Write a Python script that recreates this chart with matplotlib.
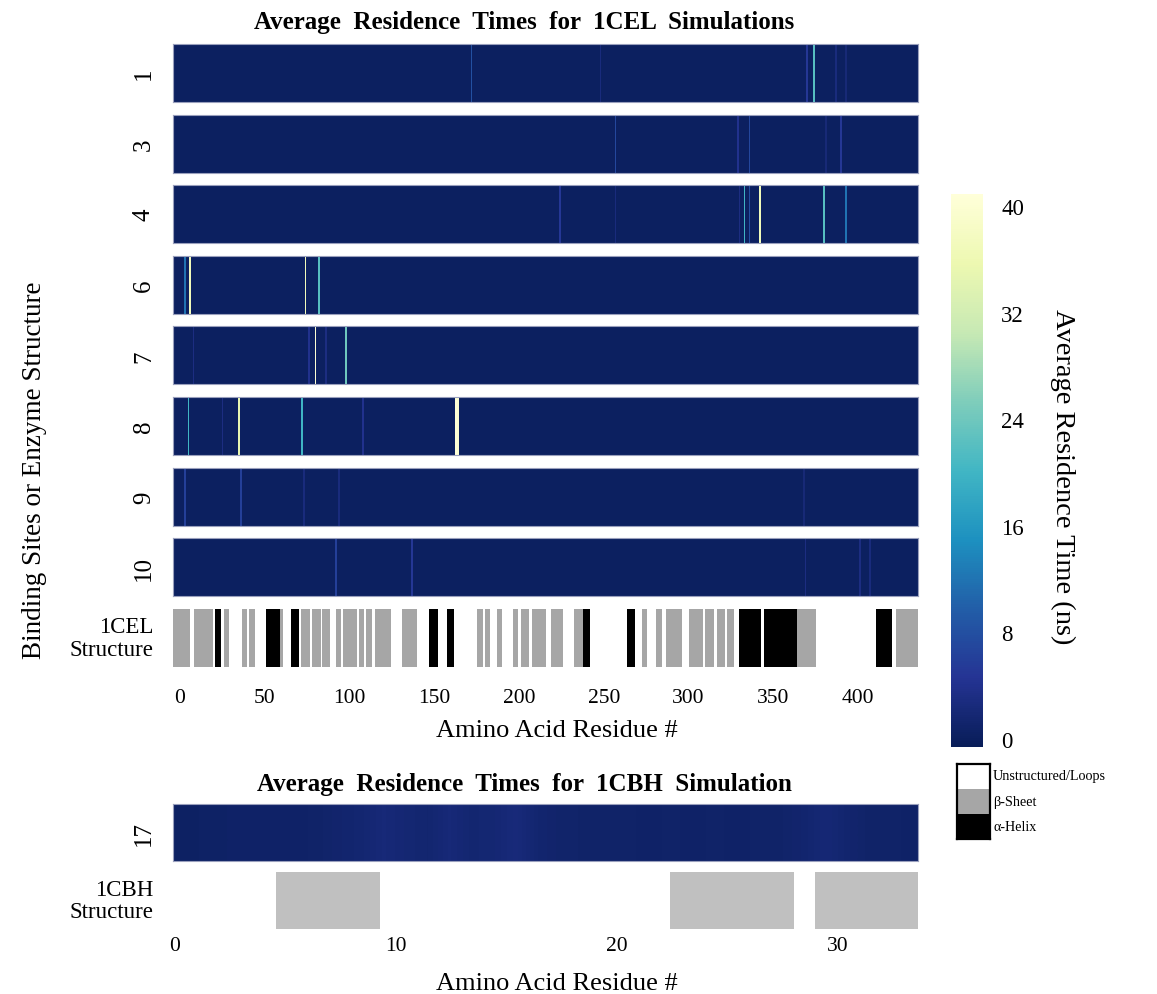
import numpy as np
import matplotlib
matplotlib.use("Agg")
import matplotlib.pyplot as plt
from matplotlib.colors import Normalize
from matplotlib.patches import Rectangle

plt.rcParams['font.family'] = ['Liberation Serif', 'DejaVu Serif']

# ---------------- data ----------------
# 1CEL binding sites and per-residue average residence times (ns)
site_labels = ['1', '3', '4', '6', '7', '8', '9', '10']
cel_first_residue, cel_last_residue = -4, 435
cel_base_time = 0.2
# (residue, residence time) for residues above the background level
site_spikes = {
    '1': [(172, 8.0), (248, 2.5), (370, 5.0), (374, 22.0), (387, 2.5), (393, 2.0)],
    '3': [(257, 7.0), (329, 4.0), (336, 7.0), (381, 2.0), (390, 5.0)],
    '4': [(224, 5.0), (257, 2.5), (330, 3.0), (333, 20.0), (336, 8.0), (342, 37.0),
          (380, 22.0), (393, 12.0)],
    '6': [(3, 12.0), (6, 37.0), (74, 37.0), (82, 22.0)],
    '7': [(8, 3.0), (76, 4.0), (80, 40.0), (86, 3.0), (98, 24.0)],
    '8': [(5, 20.0), (25, 3.0), (35, 35.0), (72, 20.0), (108, 4.0), (163, 41.0), (164, 40.0)],
    '9': [(3, 6.0), (36, 6.0), (73, 2.5), (94, 2.5), (368, 2.0)],
    '10': [(92, 6.0), (137, 5.0), (369, 3.0), (401, 3.0), (407, 2.5)],
}

# 1CEL secondary structure: segment start, end (residue) and type (B = beta sheet, H = alpha helix)
cel_ss_start = [-4, 8, 20.5, 26, 36.5, 41, 50.5, 59, 65.5, 71.5, 78, 84, 92, 96, 105.5, 110,
                115, 131, 147, 157.5, 175.5, 180, 187, 196.5, 201, 207.5, 219, 232.5, 237.5,
                263.5, 272.5, 281, 286.5, 300.5, 309.5, 317, 322.5, 330, 344.5, 364, 410.5, 422.5]
cel_ss_end = [6, 19.5, 24, 29, 39.5, 44, 59, 60.5, 70.5, 76.5, 83, 88.5, 95, 104.5, 108.5, 113,
              124.5, 140, 152, 161.5, 178.5, 183, 190, 199.5, 206, 216, 226, 237.5, 242,
              268.5, 275.5, 284.5, 296, 308.5, 315, 321.5, 327, 342.5, 364, 375, 420, 435.5]
cel_ss_type = ['B', 'B', 'H', 'B', 'B', 'B', 'H', 'B', 'H', 'B', 'B', 'B', 'B', 'B', 'B', 'B',
               'B', 'B', 'H', 'H', 'B', 'B', 'B', 'B', 'B', 'B', 'B', 'B', 'H',
               'H', 'B', 'B', 'B', 'B', 'B', 'B', 'B', 'H', 'H', 'B', 'H', 'B']

# 1CBH binding site 17, residence time per residue (ns)
cbh_residues = np.arange(0, 34)
cbh_times = [0.4, 0.6, 0.7, 0.8, 0.7, 0.8, 0.9, 1.3, 1.6, 2.2, 1.8, 1.5, 2.2, 1.6, 1.8, 2.4,
             1.5, 1.1, 1.0, 0.9, 0.9, 0.8, 0.9, 0.8, 0.9, 0.8, 0.9, 1.0, 1.4, 2.0, 1.4, 0.9,
             0.9, 0.8]
# 1CBH secondary structure (beta sheets) on its 36-residue scale
cbh_ss_start = [5, 24, 31]
cbh_ss_end = [10, 30, 36]
cbh_length = 36

cel_ticks = [0, 50, 100, 150, 200, 250, 300, 350, 400]
cbh_ticks = [0, 10, 20, 30]
cbar_ticks = [0, 8, 16, 24, 32, 40]

# ---------------- styling ----------------
W, H = 1157, 995
fig = plt.figure(figsize=(W / 100, H / 100), dpi=100)
cmap = plt.get_cmap('YlGnBu_r')
norm = Normalize(vmin=-0.6, vmax=40.9)
ss_colors = {'U': '#ffffff', 'B': '#a6a6a6', 'H': '#000000'}
cbh_sheet_color = '#c0c0c0'
edge_col = '#9aa0bd'


def px_axes(x0, y0, x1, y1):
    return fig.add_axes([x0 / W, 1 - y1 / H, (x1 - x0) / W, (y1 - y0) / H])


def clean(ax, spines=True):
    for s in ax.spines.values():
        s.set_visible(spines)
        s.set_color(edge_col)
        s.set_linewidth(0.8)
    ax.tick_params(length=0)


left_px, right_px = 173, 918
cel_xlim = (-4.13, 435.4)
row_top0, row_pitch, row_h = 45, 70.6, 58

# ---------------- 1CEL heatmap rows ----------------
residues = np.arange(cel_first_residue, cel_last_residue + 1)
x_edges = np.append(residues - 0.5, residues[-1] + 0.5)
mappable = None
for i, lab in enumerate(site_labels):
    top = row_top0 + i * row_pitch
    ax = px_axes(left_px, top, right_px, top + row_h)
    times = np.full(residues.size, cel_base_time)
    for res, t in site_spikes[lab]:
        times[res - cel_first_residue] = t
    mappable = ax.pcolormesh(x_edges, [0, 1], times[np.newaxis, :], cmap=cmap, norm=norm)
    ax.set_xlim(*cel_xlim)
    ax.set_ylim(0, 1)
    ax.set_xticks([])
    ax.set_yticks([0.5])
    ax.set_yticklabels([lab], rotation=90, fontsize=18, va='center', ha='right')
    clean(ax)
    ax.tick_params(axis='y', pad=13)

# 1CEL structure row
top = row_top0 + len(site_labels) * row_pitch
ax_s = px_axes(left_px, top, right_px, top + row_h)
for s, e, t in zip(cel_ss_start, cel_ss_end, cel_ss_type):
    ax_s.add_patch(Rectangle((s, 0), e - s, 1, facecolor=ss_colors[t], edgecolor='none'))
ax_s.set_xlim(*cel_xlim)
ax_s.set_ylim(0, 1)
ax_s.set_yticks([0.5])
ax_s.set_yticklabels(['1CEL\nStructure'], fontsize=16.5, ha='right', va='center',
                     multialignment='right', linespacing=1.1)
ax_s.set_xticks(cel_ticks)
ax_s.set_xticklabels([str(t) for t in cel_ticks], fontsize=15.5)
clean(ax_s, spines=False)
ax_s.tick_params(axis='x', pad=15)
ax_s.tick_params(axis='y', pad=14)

fig.text(557 / W, 1 - 731 / H, 'Amino Acid Residue #', fontsize=19, ha='center', va='center')
fig.text(524 / W, 1 - 23 / H, 'Average  Residence  Times  for  1CEL  Simulations',
         fontsize=18, fontweight='bold', ha='center', va='center')
fig.text(35 / W, 1 - 470 / H, 'Binding Sites or Enzyme Structure', fontsize=19.5,
         rotation=90, ha='center', va='center')

# ---------------- 1CBH ----------------
fig.text(524 / W, 1 - 785 / H, 'Average  Residence  Times  for  1CBH  Simulation',
         fontsize=18, fontweight='bold', ha='center', va='center')

cbh_xlim = (-0.09, 33.66)
ax_b = px_axes(left_px, 805, right_px, 862)
ax_b.imshow(np.array(cbh_times)[np.newaxis, :], cmap=cmap, norm=norm, aspect='auto',
            interpolation='bilinear',
            extent=(cbh_xlim[0], cbh_residues[-1] + 1, 0, 1))
ax_b.set_xlim(*cbh_xlim)
ax_b.set_ylim(0, 1)
ax_b.set_xticks([])
ax_b.set_yticks([0.5])
ax_b.set_yticklabels(['17'], rotation=90, fontsize=18, va='center', ha='right')
clean(ax_b)
ax_b.tick_params(axis='y', pad=13)

ax_bs = px_axes(left_px, 873, right_px, 930)
for s, e in zip(cbh_ss_start, cbh_ss_end):
    ax_bs.add_patch(Rectangle((s, 0), e - s, 1, facecolor=cbh_sheet_color, edgecolor='none'))
ax_bs.set_xlim(0, cbh_length)
ax_bs.set_ylim(0, 1)
ax_bs.set_xticks([])
ax_bs.set_yticks([0.5])
ax_bs.set_yticklabels(['1CBH\nStructure'], fontsize=16.5, ha='right', va='center',
                      multialignment='right', linespacing=1.1)
clean(ax_bs, spines=False)
ax_bs.tick_params(axis='y', pad=14)

# residue numbering for the 1CBH panel
ax_bt = ax_bs.twiny()
ax_bt.set_xlim(*cbh_xlim)
ax_bt.xaxis.set_ticks_position('bottom')
ax_bt.set_xticks(cbh_ticks)
ax_bt.set_xticklabels([str(t) for t in cbh_ticks], fontsize=15.5)
clean(ax_bt, spines=False)
ax_bt.tick_params(axis='x', pad=5)
fig.text(557 / W, 1 - 984 / H, 'Amino Acid Residue #', fontsize=19, ha='center', va='center')

# ---------------- colorbar ----------------
cax = px_axes(951, 195, 983, 748)
cb = fig.colorbar(mappable, cax=cax, ticks=cbar_ticks)
cb.outline.set_visible(False)
cb.ax.tick_params(length=0, pad=13, labelsize=16.5)
fig.text(1063 / W, 1 - 477 / H, 'Average Residence Time (ns)', fontsize=20.5,
         rotation=270, ha='center', va='center')

# ---------------- structure legend ----------------
leg_names = ['Unstructured/Loops', '\u03b2-Sheet', '\u03b1-Helix']
leg_keys = ['U', 'B', 'H']
ax_l = px_axes(957, 765, 990, 840)
for k, key in enumerate(leg_keys):
    ax_l.add_patch(Rectangle((0, 2 - k), 1, 1, facecolor=ss_colors[key], edgecolor='none'))
ax_l.set_xlim(0, 1)
ax_l.set_ylim(0, 3)
ax_l.set_xticks([])
ax_l.set_yticks([])
for s in ax_l.spines.values():
    s.set_color('black')
    s.set_linewidth(1.6)
for k, name in enumerate(leg_names):
    fig.text(993 / W, 1 - (777 + 25.5 * k) / H, name, fontsize=10.2, ha='left', va='center')

fig.savefig('out.png', dpi=100)
